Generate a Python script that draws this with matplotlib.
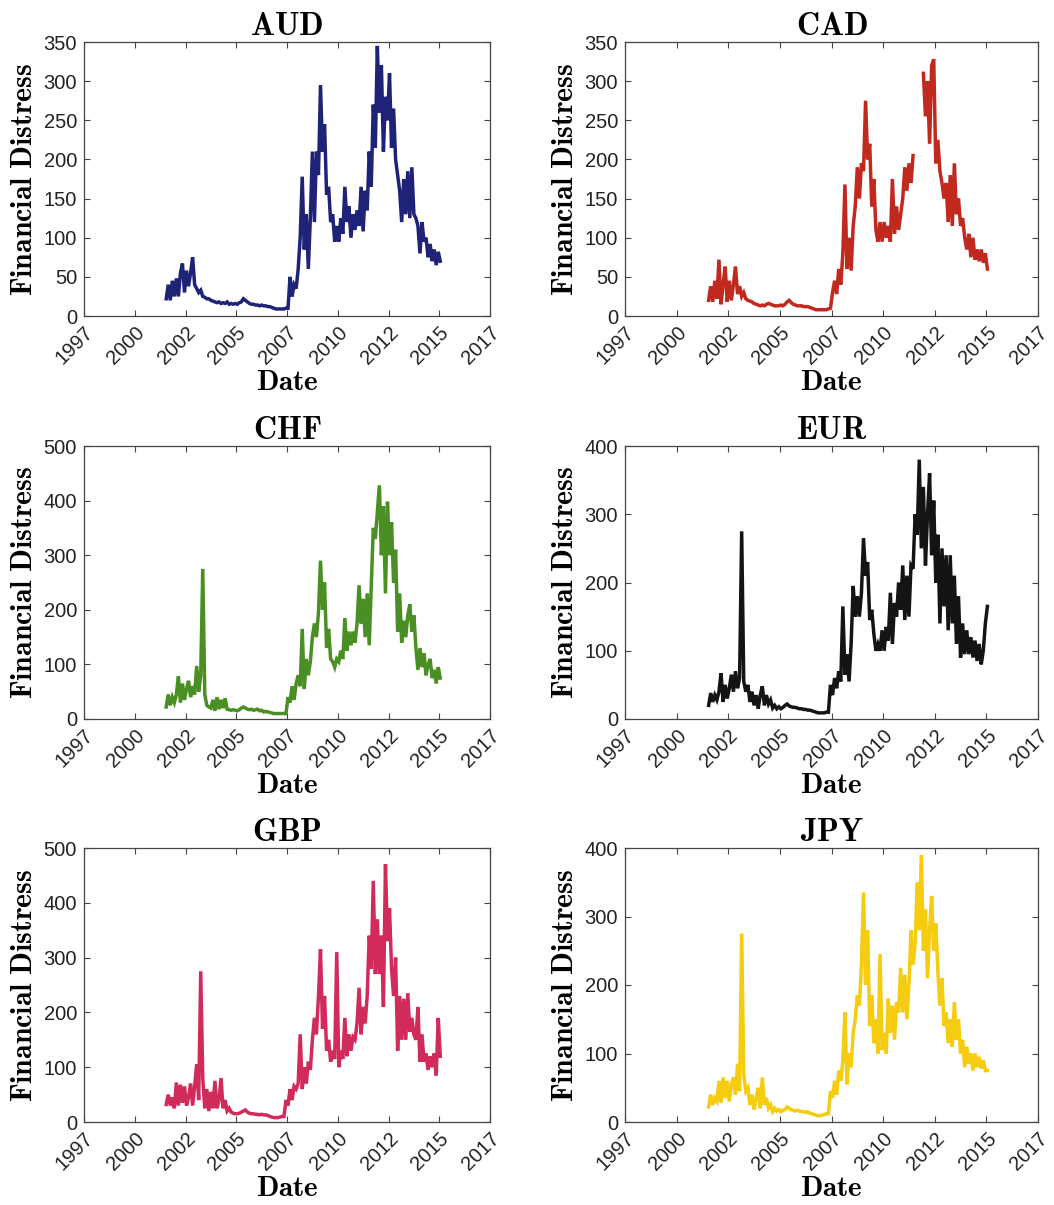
import numpy as np
import matplotlib
matplotlib.use('Agg')
import matplotlib.pyplot as plt

plt.rcParams['mathtext.fontset'] = 'cm'
plt.rcParams['font.family'] = ['Liberation Sans', 'DejaVu Sans']

# values sampled every ~0.1 year, 2001.5 .. 2015.0 (5 + 13*10 + 1 values)
aud = [22, 40, 20, 45, 25,
       48, 25, 55, 67, 30, 58, 38, 55, 75, 40,
       35, 30, 33, 25, 24, 22, 22, 20, 19, 18,
       17, 18, 16, 17, 16, 18, 15, 16, 15, 16,
       15, 17, 18, 22, 20, 18, 16, 15, 15, 14,
       14, 13, 14, 13, 13, 12, 12, 11, 10, 9,
       9, 9, 9, 9, 10, 10, 50, 25, 40, 35,
       60, 100, 178, 85, 130, 60, 125, 210, 120, 210,
       180, 295, 210, 245, 155, 165, 120, 130, 95, 115,
       95, 125, 105, 165, 120, 140, 100, 130, 110, 135,
       115, 165, 108, 160, 135, 210, 165, 270, 215, 345,
       260, 320, 210, 280, 250, 310, 215, 265, 200, 180,
       160, 120, 175, 130, 185, 125, 190, 130, 125, 115,
       80, 120, 95, 100, 75, 92, 70, 85, 65, 82,
       70]

nan = np.nan
cad = [20, 38, 18, 45, 22,
       72, 15, 40, 63, 18, 45, 20, 40, 63, 28,
       38, 25, 30, 22, 20, 19, 18, 16, 15, 14,
       13, 14, 13, 15, 16, 15, 14, 13, 13, 13,
       14, 13, 15, 18, 20, 17, 15, 14, 13, 13,
       13, 12, 12, 12, 11, 10, 9, 8, 8, 8,
       8, 8, 8, 9, 10, 30, 45, 28, 60, 40,
       80, 168, 60, 100, 58, 115, 140, 190, 150, 195,
       185, 275, 200, 220, 140, 175, 110, 95, 120, 95,
       120, 100, 115, 95, 175, 105, 140, 110, 130, 150,
       190, 160, 195, 170, 205, nan, nan, nan, nan, 310,
       255, 300, 220, 320, 328, 195, 225, 185, 170, 150,
       170, 120, 180, 115, 195, 130, 150, 115, 125, 100,
       85, 105, 75, 100, 72, 85, 70, 85, 68, 80,
       60]

chf = [22, 45, 25, 40, 30,
       45, 78, 30, 65, 35, 55, 70, 40, 60, 45,
       97, 50, 80, 275, 45, 25, 22, 20, 35, 15,
       40, 18, 35, 20, 38, 18, 17, 16, 17, 16,
       15, 17, 20, 22, 20, 18, 17, 18, 16, 17,
       18, 15, 16, 13, 14, 13, 12, 11, 10, 10,
       10, 10, 10, 10, 10, 40, 30, 60, 35, 65,
       80, 60, 165, 55, 110, 80, 105, 150, 175, 150,
       195, 290, 200, 250, 130, 165, 110, 105, 95, 110,
       105, 125, 110, 185, 125, 160, 135, 160, 140, 175,
       245, 175, 220, 150, 230, 135, 240, 350, 330, 380,
       428, 300, 390, 230, 398, 300, 360, 250, 310, 160,
       230, 140, 180, 150, 190, 210, 160, 190, 130, 90,
       130, 95, 120, 80, 100, 110, 75, 90, 65, 95,
       75]

eur = [20, 38, 25, 35, 28,
       40, 67, 25, 50, 30, 45, 65, 40, 70, 45,
       60, 275, 55, 40, 50, 25, 40, 20, 35, 15,
       35, 48, 20, 35, 22, 28, 16, 20, 15, 18,
       15, 17, 20, 22, 19, 18, 17, 17, 16, 15,
       15, 14, 14, 13, 13, 12, 11, 10, 9, 9,
       9, 9, 10, 10, 50, 35, 60, 45, 70, 55,
       165, 65, 95, 55, 110, 195, 150, 180, 150, 185,
       265, 210, 230, 145, 160, 125, 100, 110, 100, 130,
       100, 135, 115, 185, 110, 170, 150, 200, 160, 225,
       145, 210, 150, 225, 220, 300, 270, 380, 250, 340,
       225, 300, 360, 240, 320, 200, 270, 140, 250, 165,
       240, 130, 240, 140, 210, 110, 180, 90, 140, 95,
       130, 95, 120, 90, 115, 85, 110, 80, 100, 140,
       165]

gbp = [32, 50, 30, 45, 25,
       72, 30, 68, 35, 65, 30, 45, 70, 30, 65,
       105, 40, 275, 80, 25, 60, 20, 55, 25, 75,
       25, 40, 80, 25, 40, 20, 25, 18, 16, 15,
       15, 16, 18, 20, 22, 18, 16, 15, 15, 14,
       14, 13, 14, 13, 13, 12, 10, 9, 8, 8,
       8, 9, 10, 10, 40, 30, 60, 40, 65, 60,
       70, 160, 60, 100, 70, 110, 95, 150, 190, 160,
       230, 315, 170, 230, 130, 150, 110, 130, 115, 310,
       100, 130, 115, 190, 120, 160, 130, 155, 150, 180,
       245, 160, 210, 180, 230, 340, 280, 440, 270, 370,
       270, 340, 210, 470, 330, 390, 280, 230, 300, 130,
       230, 150, 225, 150, 235, 165, 190, 160, 150, 210,
       110, 160, 110, 125, 95, 120, 100, 125, 85, 190,
       120]

jpy = [22, 40, 25, 35, 30,
       60, 28, 65, 35, 60, 30, 55, 65, 40, 85,
       45, 275, 70, 45, 50, 25, 40, 18, 35, 50,
       20, 65, 25, 35, 20, 25, 15, 20, 16, 18,
       15, 17, 18, 22, 20, 18, 17, 16, 17, 16,
       15, 15, 14, 15, 13, 12, 11, 10, 9, 9,
       10, 11, 12, 12, 45, 35, 60, 40, 75, 60,
       90, 160, 55, 100, 80, 130, 150, 185, 170, 230,
       335, 200, 280, 140, 185, 115, 150, 100, 245, 105,
       130, 100, 180, 130, 170, 120, 175, 160, 225, 160,
       215, 150, 200, 280, 230, 260, 350, 280, 390, 250,
       310, 210, 280, 330, 250, 290, 220, 170, 210, 140,
       160, 115, 150, 110, 175, 120, 150, 100, 120, 80,
       110, 85, 100, 75, 100, 80, 95, 78, 90, 75,
       75]

names = ['AUD', 'CAD', 'CHF', 'EUR', 'GBP', 'JPY']
series = [aud, cad, chf, eur, gbp, jpy]
colors = ['#1f2378', '#c1281e', '#4a8f24', '#141414', '#d02b5a', '#f5cc10']
ymax = [350, 350, 500, 400, 500, 400]
ystep = [50, 50, 100, 100, 100, 100]

tick_pos = [1997.5 + 2.5 * k for k in range(9)]
tick_lab = ['1997', '2000', '2002', '2005', '2007', '2010', '2012', '2015', '2017']

W, H = 1054, 1205
fig = plt.figure(figsize=(W / 100, H / 100), dpi=100)

cols = [(84, 490), (625, 1038)]
rows = [(42, 316), (446, 719), (848, 1122)]

for i in range(6):
    r, c = divmod(i, 2)
    x0, x1 = cols[c]
    t, b = rows[r]
    ax = fig.add_axes([x0 / W, 1 - b / H, (x1 - x0) / W, (b - t) / H])
    vals = np.array(series[i], dtype=float)
    x = np.linspace(2001.55, 2015.05, len(vals))
    ax.plot(x, vals, color=colors[i], lw=2.5, solid_joinstyle='miter')
    ax.set_xlim(1997.5, 2017.5)
    ax.set_ylim(0, ymax[i])
    ax.set_yticks(np.arange(0, ymax[i] + 1, ystep[i]))
    ax.set_xticks(tick_pos)
    ax.set_xticklabels(tick_lab, rotation=45, ha='right', va='top',
                       rotation_mode='anchor')
    ax.tick_params(direction='in', length=4, width=0.8, color='#444444',
                   labelcolor='#222222', top=True, right=True,
                   labelsize=14.5, pad=5)
    for s in ax.spines.values():
        s.set_color('#444444')
        s.set_linewidth(0.9)
    ax.set_title(r'$\mathbf{' + names[i] + '}$', fontsize=23, pad=5)
    ax.set_ylabel(r'$\mathbf{Financial\ Distress}$', fontsize=21.5, labelpad=4)
    ax.set_xlabel(r'$\mathbf{Date}$', fontsize=21, labelpad=0)

fig.savefig('out.png', dpi=100)
